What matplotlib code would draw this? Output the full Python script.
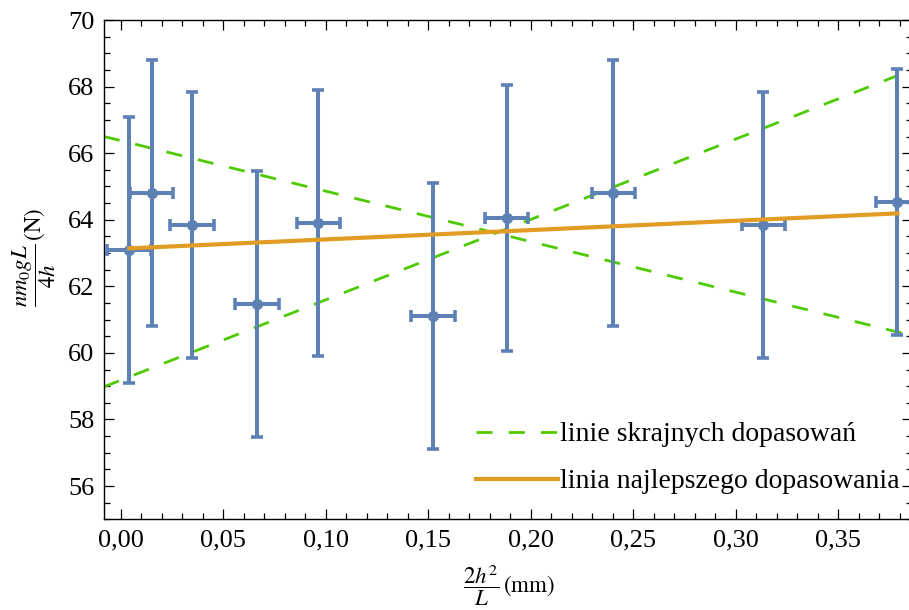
import matplotlib
matplotlib.use("Agg")
import matplotlib.pyplot as plt
from matplotlib.ticker import MultipleLocator, FixedLocator, FixedFormatter

plt.rcParams['font.family'] = ['Liberation Serif', 'DejaVu Serif']
plt.rcParams['mathtext.fontset'] = 'stix'

# ---- data ----
x_vals = [0.0042, 0.0151, 0.0348, 0.0665, 0.0964, 0.1523, 0.1883, 0.2403, 0.3135, 0.3789]
y_vals = [63.09, 64.81, 63.84, 61.47, 63.90, 61.11, 64.05, 64.81, 63.85, 64.53]
x_err = [0.0108, 0.0106, 0.0106, 0.0106, 0.0106, 0.0106, 0.0106, 0.0104, 0.0104, 0.0104]
y_err = [4.0, 4.0, 4.0, 4.0, 4.0, 4.0, 4.0, 4.0, 4.0, 4.0]

best_x = [0.0042, 0.3789]
best_y = [63.14, 64.19]

extreme_x = [-0.0082, 0.386]
extreme_up_y = [58.98, 68.50]
extreme_down_y = [66.50, 60.52]

x_ticks = [0.00, 0.05, 0.10, 0.15, 0.20, 0.25, 0.30, 0.35]
x_tick_labels = ['0,00', '0,05', '0,10', '0,15', '0,20', '0,25', '0,30', '0,35']
y_ticks = [56, 58, 60, 62, 64, 66, 68, 70]
y_tick_labels = ['56', '58', '60', '62', '64', '66', '68', '70']

label_extreme = 'linie skrajnych dopasowań'
label_best = 'linia najlepszego dopasowania'

blue = '#5E81B5'
orange = '#E19C24'
green = '#4DCB00'

fig = plt.figure(figsize=(9.09, 6.10), dpi=100)
ax = fig.add_axes([104/909, (610-519.3)/610, (912-104)/909, 499.3/610])

ax.plot(extreme_x, extreme_up_y, color=green, lw=2.0, dashes=(5.8, 5.8), zorder=2,
        label=label_extreme)
ax.plot(extreme_x, extreme_down_y, color=green, lw=2.0, dashes=(5.8, 5.8), zorder=2)
ax.errorbar(x_vals, y_vals, xerr=x_err, yerr=y_err, fmt='o', color=blue,
            ms=7, elinewidth=2.9, capsize=4, capthick=2.6, zorder=3)
ax.plot(best_x, best_y, color=orange, lw=3, zorder=4, label=label_best)

ax.set_xlim(-0.00815, 0.386)
ax.set_ylim(55, 70)

ax.xaxis.set_major_locator(FixedLocator(x_ticks))
ax.xaxis.set_major_formatter(FixedFormatter(x_tick_labels))
ax.xaxis.set_minor_locator(MultipleLocator(0.01))
ax.yaxis.set_major_locator(FixedLocator(y_ticks))
ax.yaxis.set_major_formatter(FixedFormatter(y_tick_labels))
ax.yaxis.set_minor_locator(MultipleLocator(0.5))

ax.tick_params(which='both', direction='in', top=True, right=True, labelsize=19,
               colors='black', width=0.9)
ax.tick_params(which='major', length=7, pad=7)
ax.tick_params(which='minor', length=4)
for s in ax.spines.values():
    s.set_linewidth(1.0)
    s.set_color('black')

fig.text(34/909, 1-257/610, r'$\dfrac{nm_0gL}{4h}\,(\mathrm{N})$', fontsize=16.5,
         rotation=90, ha='center', va='center')
fig.text(509/909, 2/610, r'$\dfrac{2h^2}{L}\,(\mathrm{mm})$', fontsize=16.5,
         ha='center', va='bottom')

leg = ax.legend(loc='upper left', bbox_to_anchor=((476-104)/808, (519.3-422)/499.3),
                frameon=False, fontsize=20, handlelength=2.95, handletextpad=0.08,
                labelspacing=0.77, borderpad=0, borderaxespad=0)

fig.savefig('out.png', dpi=100)
